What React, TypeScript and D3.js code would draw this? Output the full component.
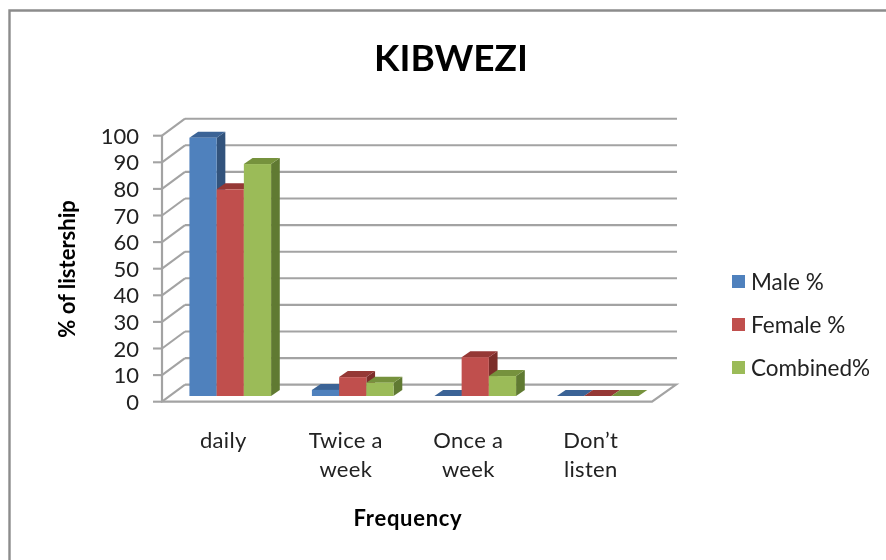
import React from "react";
import * as d3 from "d3";

const categories: string[][] = [["daily"], ["Twice a", "week"], ["Once a", "week"], ["Don’t", "listen"]];
const seriesNames = ["Male %", "Female %", "Combined%"];
const male = [97.1, 2.3, 0, 0];
const female = [77.7, 7.1, 14.6, 0];
const combined = [87.2, 5, 7.5, 0];
const yTicks = d3.range(0, 101, 10);
const faces = ["#4f81bd", "#c0504d", "#9bbb59"];
const tops = ["#3b6496", "#953735", "#76923c"];
const sides = ["#31527c", "#7c2e2c", "#617a33"];

const FONT = "Lato, Carlito, sans-serif";
const depthY = 17;
const barDX = 7, barDY = 5.7, barDepthX = 8.7, barDepthY = 6;

export default function App() {
  const y = d3.scaleLinear().domain([0, 100]).range([401.7, 135.7]);
  const x0 = d3.scaleBand<number>().domain(d3.range(4)).range([162, 652]);
  const groupPad = x0.bandwidth() / 6;
  const x1 = d3.scaleBand<number>().domain(d3.range(3)).range([groupPad, x0.bandwidth() - groupPad]);
  const all = [male, female, combined];
  const gridColor = "#a3a3a3";
  return (
    <svg width={886} height={560} style={{ position: "absolute", left: 0, top: 0, background: "#fff" }} fontFamily={FONT}>
      <defs>
        <filter id="soft" x="-5%" y="-5%" width="110%" height="110%">
          <feGaussianBlur stdDeviation="0.55" />
        </filter>
      </defs>
      <g filter="url(#soft)">
        <path d="M9.5,560V10.5H886" fill="none" stroke="#8c8c8c" strokeWidth={2.4} />
        <text x={451} y={71} textAnchor="middle" fontSize={37} fontWeight={700} fill="#000">KIBWEZI</text>

        {/* walls, floor and gridlines */}
        {yTicks.map((t) => (
          <g key={t} stroke={gridColor} strokeWidth={2.1} fill="none">
            {t > 0 && <line x1={185} x2={677} y1={y(t) - depthY} y2={y(t) - depthY} />}
            <line x1={162} x2={185} y1={y(t)} y2={y(t) - depthY} />
            <line x1={153} x2={162} y1={y(t)} y2={y(t)} />
          </g>
        ))}
        <path d={`M162,${y(100)}V${y(0)}H652L${652 + 24},${y(0) - depthY}H185`} fill="none" stroke={gridColor} strokeWidth={2.2} />

        {yTicks.map((t) => (
          <text key={t} x={139} y={y(t) + 8} textAnchor="end" fontSize={22} fill="#222">{t}</text>
        ))}

        {/* bars, back to front within each group */}
        {categories.map((_, c) =>
          all.map((vals, s) => {
            const left = x0(c)! + x1(s)! + barDX;
            const w = x1.bandwidth();
            const base = y(0) - barDY;
            const top = y(vals[c]) - barDY;
            const d = barDepthX, e = barDepthY;
            return (
              <g key={`${c}-${s}`}>
                <path d={`M${left + w},${base}L${left + w + d},${base - e}V${top - e}L${left + w},${top}Z`} fill={sides[s]} />
                <path d={`M${left},${top}L${left + d},${top - e}H${left + w + d}L${left + w},${top}Z`} fill={tops[s]} />
                <rect x={left} y={top} width={w} height={base - top} fill={faces[s]} />
              </g>
            );
          })
        )}

        {categories.map((lines, c) => (
          <text key={c} textAnchor="middle" fontSize={22} fill="#222" letterSpacing={0.3}>
            {lines.map((l, i) => (
              <tspan key={i} x={x0(c)! + x0.bandwidth() / 2} y={448 + i * 29}>{l}</tspan>
            ))}
          </text>
        ))}

        <text x={408} y={526} textAnchor="middle" fontSize={22} fontWeight={700} fill="#000" letterSpacing={0.7}>Frequency</text>
        <text transform="translate(75,269) rotate(-90)" textAnchor="middle" fontSize={22} fontWeight={700} fill="#000">% of listership</text>

        {seriesNames.map((n, i) => (
          <g key={n}>
            <rect x={732} y={275 + i * 43} width={13} height={13} fill={faces[i]} />
            <text x={751} y={290 + i * 43} fontSize={22.5} fill="#222">{n}</text>
          </g>
        ))}
      </g>
    </svg>
  );
}
